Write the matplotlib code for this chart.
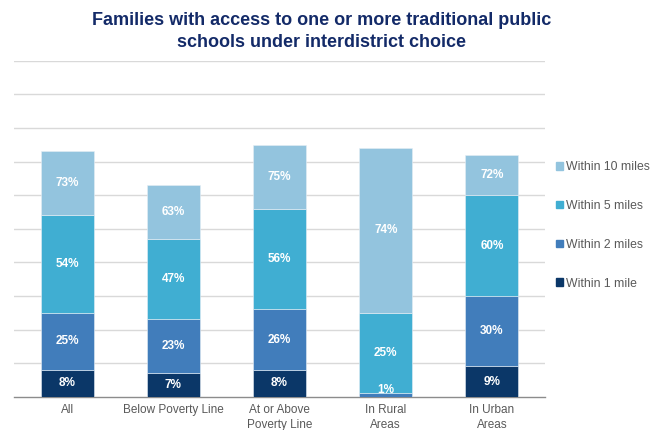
import numpy as np
import matplotlib.pyplot as plt
from matplotlib.patches import Patch

plt.rcParams['font.family'] = ['Liberation Sans', 'DejaVu Sans']

# cumulative share of families with a school within each distance (%)
groups = ["All", "Below Poverty Line", "At or Above\nPoverty Line", "In Rural\nAreas", "In Urban\nAreas"]
within_1 = [8, 7, 8, 0, 9]
within_2 = [25, 23, 26, 1, 30]
within_5 = [54, 47, 56, 25, 60]
within_10 = [73, 63, 75, 74, 72]

series = [within_1, within_2, within_5, within_10]
names = ["Within 1 mile", "Within 2 miles", "Within 5 miles", "Within 10 miles"]
colors = ["#0b3768", "#417dbb", "#40aed2", "#93c4de"]

fig = plt.figure(figsize=(6.61, 4.30), dpi=100)
ax = fig.add_axes([14 / 661, 1 - 396.7 / 430, 531 / 661, 336 / 430])

x = np.arange(len(groups))
prev = np.zeros(len(groups))
for vals, name, col in zip(series, names, colors):
    vals = np.array(vals, dtype=float)
    h = vals - prev
    ax.bar(x, h, bottom=prev, width=0.5, color=col, edgecolor="#e6eef5",
           linewidth=0.4, zorder=3, label=name)
    for xi, v, b, hh in zip(x, vals, prev, h):
        if v <= 0 or hh <= 0:
            continue
        y = max(b + hh / 2, 2.0)
        ax.text(xi, y, f"{int(v)}%", ha="center", va="center", color="white",
                fontsize=8.5, fontweight="bold", zorder=4)
    prev = vals

ax.set_xlim(-0.5, len(groups) - 0.5)
ax.set_ylim(0, 100)
ax.set_yticks(np.arange(10, 101, 10))
ax.yaxis.grid(True, color="#d9d9d9", linewidth=1.0, zorder=0)
ax.tick_params(axis="y", left=False, labelleft=False)
ax.set_xticks(x)
ax.set_xticklabels(groups, fontsize=8.5, color="#595959", linespacing=1.35)
ax.tick_params(axis="x", length=0, pad=5)
for s in ["top", "right", "left"]:
    ax.spines[s].set_visible(False)
ax.spines["bottom"].set_color("#8c8c8c")
ax.spines["bottom"].set_linewidth(1.0)

handles = [Patch(color=c, label=n) for c, n in zip(colors, names)][::-1]
fig.legend(handles=handles, loc="upper left", bbox_to_anchor=(545 / 661, 1 - 150 / 430),
           frameon=False, fontsize=8.8, labelcolor="#595959", handlelength=0.6,
           handleheight=0.6, handletextpad=0.2, labelspacing=2.2)

fig.text(0.4867, 1 - 31.5 / 430, "Families with access to one or more traditional public\nschools under interdistrict choice",
         ha="center", va="center", fontsize=13, fontweight="bold", color="#132a68",
         linespacing=1.4)

fig.savefig("out.png", dpi=100)
